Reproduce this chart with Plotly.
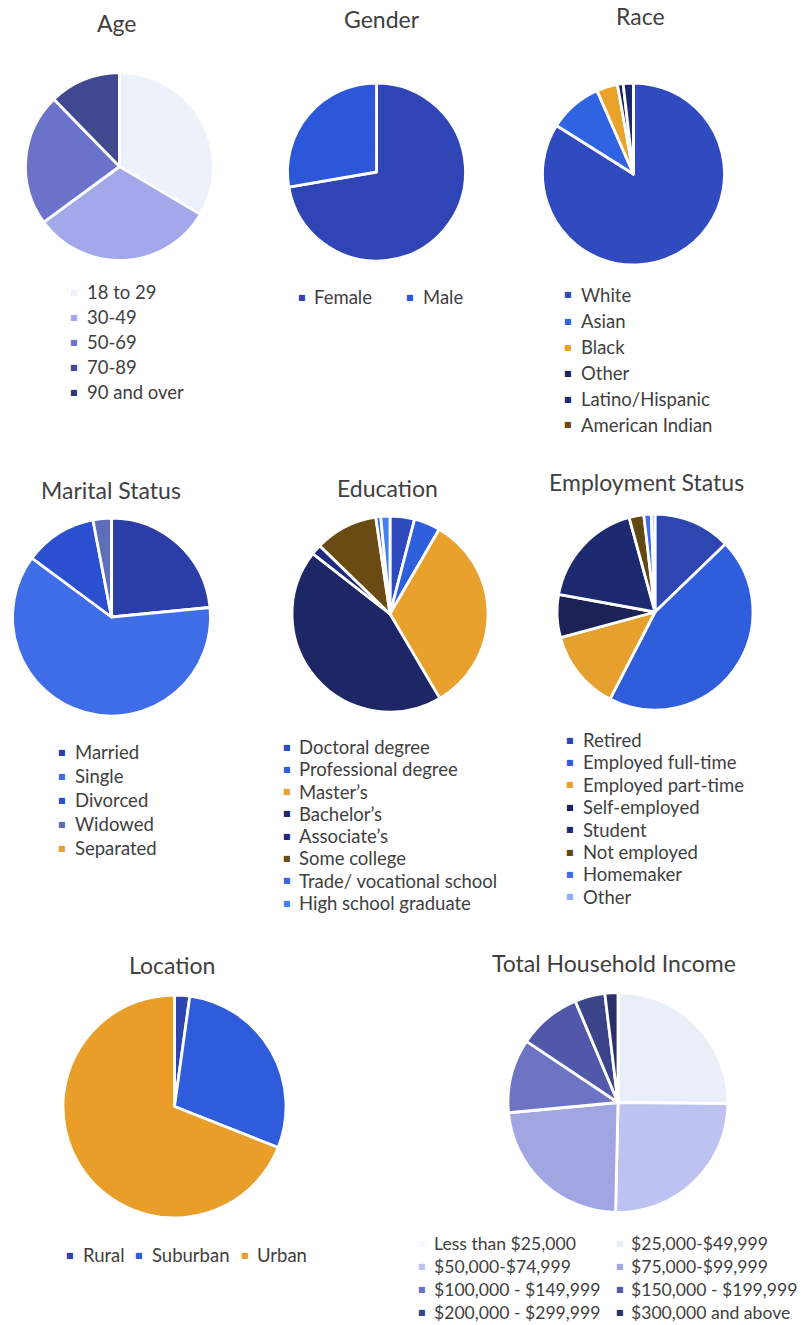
import plotly.graph_objects as go

W, H = 805, 1325

# ---- survey data (percent of respondents) ----
age_labels = ["18 to 29", "30-49", "50-69", "70-89", "90 and over"]
age_values = [33.5, 31.4, 22.8, 12.3, 0]

gender_labels = ["Female", "Male"]
gender_values = [72.3, 27.7]

race_labels = ["White", "Asian", "Black", "Other", "Latino/Hispanic", "American Indian"]
race_values = [83.1, 9.4, 3.7, 1.0, 1.8, 0]

marital_labels = ["Married", "Single", "Divorced", "Widowed", "Separated"]
marital_values = [23.4, 61.5, 11.8, 3.0, 0]

education_labels = ["Doctoral degree", "Professional degree", "Master\u2019s", "Bachelor\u2019s",
                    "Associate\u2019s", "Some college", "Trade/ vocational school",
                    "High school graduate"]
education_values = [4.0, 4.3, 32.8, 43.6, 1.7, 10.3, 0.8, 1.5]

employment_labels = ["Retired", "Employed full-time", "Employed part-time", "Self-employed",
                     "Student", "Not employed", "Homemaker", "Other"]
employment_values = [12.6, 44.2, 13.0, 7.0, 17.6, 2.4, 1.2, 0.6]

location_labels = ["Rural", "Suburban", "Urban"]
location_values = [2.2, 28.8, 69.0]

income_labels = ["Less than $25,000", "$25,000-$49,999", "$50,000-$74,999", "$75,000-$99,999",
                 "$100,000 - $149,999", "$150,000 - $199,999", "$200,000 - $299,999",
                 "$300,000 and above"]
income_values = [0, 25.0, 25.0, 23.0, 10.8, 9.2, 4.4, 1.9]

# ---- colours ----
age_colors = ["#EDF1FA", "#A3A8EA", "#6B72C9", "#404990", "#2F356F"]
gender_colors = ["#2F45B5", "#2D57D9"]
race_colors = ["#2F4BBF", "#2F63E0", "#E9A22A", "#1C2460", "#1B2A70", "#6B4A14"]
marital_colors = ["#2B3DA6", "#3F6DE8", "#2A4FCF", "#5F6EB8", "#E9A030"]
education_colors = ["#2E4BBE", "#2F60DC", "#E9A12D", "#1E2765", "#1F2C7E", "#6A4B13",
                    "#3B63DD", "#4380F0"]
employment_colors = ["#2D46B2", "#2F5DDB", "#E5A02E", "#1B2255", "#1E2A70", "#624815",
                     "#3D6CE6", "#8FB0F2"]
location_colors = ["#2B44B0", "#2F5CDB", "#E99E2A"]
income_colors = ["#F5F7FC", "#E9EEF9", "#BEC2F0", "#A1A5E2", "#6E74C4", "#5158AA",
                 "#3C4489", "#2B3168"]

FONT = "Lato, 'Open Sans', sans-serif"
TEXT = "#404040"
TITLE_SIZE = 23


def px(x):
    return x / W


def py(y):
    return 1 - y / H


def vlist(mx, tx, y0, dy, n):
    return [(mx, tx, y0 + i * dy) for i in range(n)]


panels = [
    dict(title="Age", labels=age_labels, values=age_values, colors=age_colors,
         center=(119.5, 166.5), r=94, title_pos=(117, 23), size=18.5,
         legend=vlist(74, 85, 292, 25, 5)),
    dict(title="Gender", labels=gender_labels, values=gender_values, colors=gender_colors,
         center=(376.5, 172), r=89, title_pos=(382, 19), size=18.5,
         legend=[(302, 312, 297), (410, 421, 297)]),
    dict(title="Race", labels=race_labels, values=race_values, colors=race_colors,
         center=(633.5, 174), r=91, title_pos=(640, 16), size=18.5,
         legend=vlist(568, 579, 295, 26, 6)),
    dict(title="Marital Status", labels=marital_labels, values=marital_values,
         colors=marital_colors, center=(111.5, 617), r=99, title_pos=(111, 490), size=18.5,
         legend=vlist(62, 73, 752, 24, 5)),
    dict(title="Education", labels=education_labels, values=education_values,
         colors=education_colors, center=(390, 614), r=98, title_pos=(387, 488), size=18.5,
         legend=vlist(287, 297, 747, 22.3, 8)),
    dict(title="Employment Status", labels=employment_labels, values=employment_values,
         colors=employment_colors, center=(655, 612), r=98, title_pos=(646, 482), size=18.5,
         legend=vlist(570, 581, 740, 22.4, 8)),
    dict(title="Location", labels=location_labels, values=location_values,
         colors=location_colors, center=(174.5, 1106.5), r=111.5, title_pos=(172, 965),
         size=18.5,
         legend=[(70, 81, 1255), (139, 150, 1255), (245, 255, 1255)]),
    dict(title="Total Household Income", labels=income_labels, values=income_values,
         colors=income_colors, center=(618, 1102.5), r=110, title_pos=(614, 963), size=17.6,
         legend=[(422, 432, 1243), (620, 629, 1243),
                 (422, 432, 1266), (620, 629, 1266),
                 (422, 432, 1289), (620, 629, 1289),
                 (422, 432, 1312), (620, 629, 1312)]),
]

fig = go.Figure()
annotations = []

for p in panels:
    cx, cy = p["center"]
    r = p["r"]
    fig.add_trace(go.Pie(
        labels=p["labels"],
        values=p["values"],
        sort=False,
        direction="clockwise",
        rotation=0,
        textinfo="none",
        marker=dict(colors=p["colors"], line=dict(color="white", width=2.8)),
        domain=dict(x=[px(cx - r), px(cx + r)], y=[py(cy + r), py(cy - r)]),
        showlegend=False,
        name=p["title"],
    ))
    tx, ty = p["title_pos"]
    annotations.append(dict(
        text=p["title"], x=px(tx), y=py(ty), xref="paper", yref="paper",
        xanchor="center", yanchor="middle", showarrow=False,
        font=dict(family=FONT, size=TITLE_SIZE, color=TEXT),
    ))
    for label, color, (mx, lx, ly) in zip(p["labels"], p["colors"], p["legend"]):
        annotations.append(dict(
            text="\u25A0", x=px(mx), y=py(ly), xref="paper", yref="paper",
            xanchor="center", yanchor="middle", showarrow=False,
            font=dict(family="DejaVu Sans", size=8, color=color),
        ))
        annotations.append(dict(
            text=label, x=px(lx), y=py(ly), xref="paper", yref="paper",
            xanchor="left", yanchor="middle", showarrow=False,
            font=dict(family=FONT, size=p["size"], color=TEXT),
        ))

fig.update_layout(
    width=W, height=H,
    margin=dict(l=0, r=0, t=0, b=0),
    paper_bgcolor="white",
    plot_bgcolor="white",
    showlegend=False,
    annotations=annotations,
)

fig.write_html("out.html")
